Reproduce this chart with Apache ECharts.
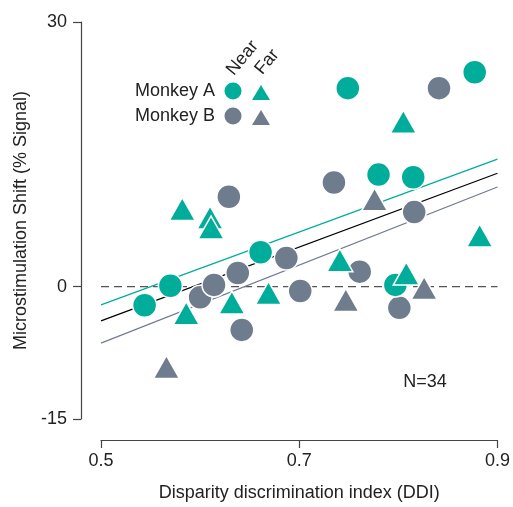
<!DOCTYPE html>
<html>
<head>
<meta charset="utf-8">
<script src="https://cdn.jsdelivr.net/npm/echarts@6/dist/echarts.min.js"></script>
<style>
html,body{margin:0;padding:0;background:#fff;}
#chart{width:513px;height:507px;}
</style>
</head>
<body>
<div id="chart"></div>
<script>
// Monkey A, near (circles) [DDI, shift]
var monkeyANear = [[0.544,-2.1],[0.570,0.1],[0.661,3.9],[0.749,22.5],[0.780,12.7],[0.815,12.4],[0.877,24.3],[0.797,0.2]];
// Monkey A, far (triangles)
var monkeyAFar = [[0.582,8.8],[0.610,7.85],[0.611,6.7],[0.586,-3.0],[0.632,-1.8],[0.669,-0.7],[0.741,3.0],[0.805,18.7],[0.808,1.5],[0.882,5.8]];
// Monkey B, near (circles)
var monkeyBNear = [[0.600,-1.2],[0.614,0.2],[0.638,1.55],[0.642,-4.9],[0.687,3.25],[0.701,-0.5],[0.735,11.8],[0.761,1.7],[0.801,-2.4],[0.816,8.45],[0.841,22.5],[0.629,10.2]];
// Monkey B, far (triangles)
var monkeyBFar = [[0.566,-9.1],[0.747,-1.5],[0.776,9.9],[0.826,-0.15]];
// regression lines (end points)
var fitA = [[0.5,-2.07],[0.9,14.45]];
var fitAll = [[0.5,-3.88],[0.9,12.86]];
var fitB = [[0.5,-6.4],[0.9,11.3]];
var zeroLine = [[0.5,0],[0.9,0]];
var xTicks = [0.5,0.7,0.9];
var yTicks = [-15,0,30];

var TEAL = '#00ad9a', GRAY = '#6f7c8d', FONT = '"Liberation Sans", Arial, sans-serif';
var chart = echarts.init(document.getElementById('chart'), null, {renderer:'canvas'});
function lineSeries(data, color, type){
  return {type:'line', data:data, symbol:'none', silent:true, z:1,
    lineStyle:{color:color, width:1.2, type:type||'solid'}};
}
function scat(data, symbol, size, color){
  return {type:'scatter', data:data, symbol:symbol, symbolSize:size, z:3,
    itemStyle:{color:color, opacity:1, borderColor:'#fff', borderWidth:1.5}};
}
var axLine = {color:'#444', width:1.2};
chart.setOption({
  animation:false,
  grid:{left:101, right:12, top:22, bottom:87},
  xAxis:{type:'value', min:0.5, max:0.9, offset:21,
    axisLine:{show:true, onZero:false, lineStyle:axLine},
    axisTick:{show:true, length:8, customValues:xTicks, lineStyle:axLine},
    axisLabel:{customValues:xTicks, margin:12, color:'#222', fontSize:18, fontFamily:FONT,
      formatter:function(v){return v.toFixed(1);}},
    splitLine:{show:false},
    name:'Disparity discrimination index (DDI)', nameLocation:'middle', nameGap:44,
    nameTextStyle:{color:'#222', fontSize:18, fontFamily:FONT}},
  yAxis:{type:'value', min:-15, max:30, offset:20,
    axisLine:{show:true, onZero:false, lineStyle:axLine},
    axisTick:{show:true, length:8, customValues:yTicks, lineStyle:axLine},
    axisLabel:{customValues:yTicks, margin:14, color:'#222', fontSize:18, fontFamily:FONT},
    splitLine:{show:false},
    name:'Microstimulation Shift (% Signal)', nameLocation:'middle', nameGap:50,
    nameTextStyle:{color:'#222', fontSize:18, fontFamily:FONT}},
  series:[
    lineSeries(zeroLine, '#555', [8,5]),
    lineSeries(fitA, TEAL),
    lineSeries(fitB, GRAY),
    lineSeries(fitAll, '#000'),
    scat(monkeyBNear, 'circle', 24, GRAY),
    scat(monkeyANear, 'circle', 24, TEAL),
    scat(monkeyAFar, 'triangle', [26,23], TEAL),
    scat(monkeyBFar, 'triangle', [26,23], GRAY)
  ],
  graphic:[
    {type:'text', x:135, y:91, style:{text:'Monkey A', font:'18px '+FONT, fill:'#222', textVerticalAlign:'middle'}},
    {type:'text', x:135, y:116, style:{text:'Monkey B', font:'18px '+FONT, fill:'#222', textVerticalAlign:'middle'}},
    {type:'circle', shape:{cx:233, cy:91, r:8.5}, style:{fill:TEAL}},
    {type:'circle', shape:{cx:233, cy:116, r:8.5}, style:{fill:GRAY}},
    {type:'polygon', shape:{points:[[261,85],[270,100],[252,100]]}, style:{fill:TEAL}},
    {type:'polygon', shape:{points:[[261,110],[270,125],[252,125]]}, style:{fill:GRAY}},
    {type:'text', x:242.5, y:58, rotation:50*Math.PI/180, style:{text:'Near', font:'18px '+FONT, fill:'#222', textAlign:'center', textVerticalAlign:'middle'}},
    {type:'text', x:267, y:62, rotation:50*Math.PI/180, style:{text:'Far', font:'18px '+FONT, fill:'#222', textAlign:'center', textVerticalAlign:'middle'}},
    {type:'text', x:425, y:382, style:{text:'N=34', font:'18px '+FONT, fill:'#222', textAlign:'center', textVerticalAlign:'middle'}}
  ]
});
</script>
</body>
</html>
